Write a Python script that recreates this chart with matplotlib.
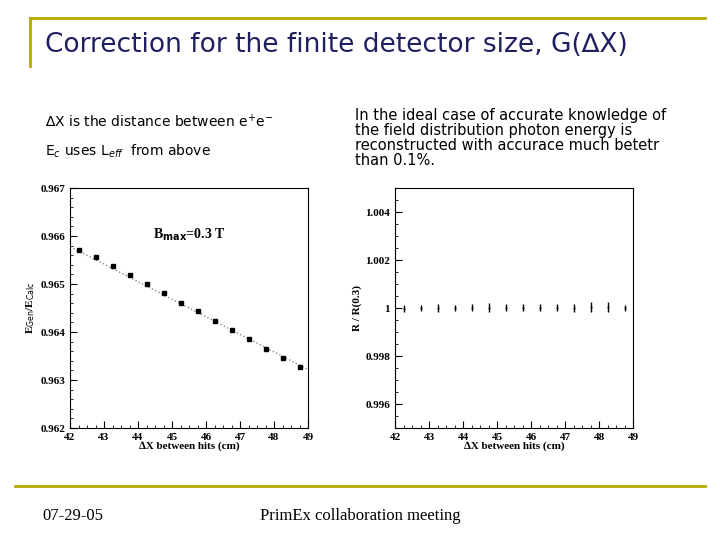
import matplotlib.pyplot as plt
from matplotlib.lines import Line2D

dx = [42.25, 42.75, 43.25, 43.75, 44.25, 44.75, 45.25, 45.75, 46.25, 46.75, 47.25, 47.75, 48.25, 48.75]
ratio = [0.96571, 0.96556, 0.96537, 0.96519, 0.96501, 0.96481, 0.96461,
         0.96443, 0.96423, 0.96404, 0.96385, 0.96365, 0.96345, 0.96327]
fit_x = [42.0, 49.0]
fit_y = [0.96578, 0.96322]
r_norm = [0.99997, 1.0, 1.0, 1.0, 1.00001, 1.00002, 1.00001, 1.00001,
          1.00001, 1.00001, 1.0, 1.00003, 1.00004, 1.0]
r_err = [0.00015, 0.00013, 0.00015, 0.00013, 0.00015, 0.00017, 0.00015, 0.00015,
         0.00015, 0.00015, 0.00015, 0.00020, 0.00021, 0.00013]

olive = '#b8a800'
serif = 'Liberation Serif'

fig = plt.figure(figsize=(7.2, 5.4), dpi=100)
fig.add_artist(Line2D([30/720, 705/720], [1-18/540, 1-18/540], color=olive, lw=2))
fig.add_artist(Line2D([30/720, 30/720], [1-18/540, 1-66/540], color=olive, lw=2))
fig.add_artist(Line2D([15/720, 705/720], [1-486/540, 1-486/540], color=olive, lw=2))

fig.text(45/720, 1-45/540, 'Correction for the finite detector size, G(\u2206X)',
         fontsize=19, va='center', color='#202060')
fig.text(45/720, 1-122/540, '\u2206X is the distance between e$^{+}$e$^{-}$', fontsize=10, va='center')
fig.text(45/720, 1-151/540, 'E$_{c}$ uses L$_{eff}$  from above', fontsize=10, va='center')
fig.text(355/720, 1-138/540,
         'In the ideal case of accurate knowledge of\nthe field distribution photon energy is\n'
         'reconstructed with accurace much betetr\nthan 0.1%.', fontsize=10.5, va='center', linespacing=1.0)
fig.text(42/720, 1-516/540, '07-29-05', fontsize=12, va='center', family=serif)
fig.text(360/720, 1-516/540, 'PrimEx collaboration meeting', fontsize=12, va='center', ha='center', family=serif)

def style(ax, ylabel):
    ax.set_xlim(42, 49)
    ax.set_xticks(range(42, 50))
    ax.set_xticks([x / 4 for x in range(168, 197)], minor=True)
    ax.tick_params(which='both', direction='in', labelsize=8)
    ax.tick_params(which='major', length=5)
    ax.tick_params(which='minor', length=2.5)
    for lab in ax.get_xticklabels() + ax.get_yticklabels():
        lab.set_family(serif)
        lab.set_fontweight('bold')
    ax.set_xlabel('\u2206X between hits (cm)', family=serif, fontweight='bold', fontsize=8, labelpad=0)
    ax.set_ylabel(ylabel, family=serif, fontweight='bold', fontsize=8, labelpad=2)

ax1 = fig.add_axes([70/720, 1-428/540, 238/720, 240/540])
ax1.plot(fit_x, fit_y, ls=':', color='#888888', lw=1)
ax1.plot(dx, ratio, 's', color='black', ms=3)
ax1.set_ylim(0.962, 0.967)
ax1.set_yticks([0.962, 0.963, 0.964, 0.965, 0.966, 0.967])
ax1.set_yticks([0.962 + i * 0.0002 for i in range(26)], minor=True)
ax1.text(45.5, 0.96595, r'B$_{\mathbf{max}}$=0.3 T', family=serif, fontweight='bold', fontsize=10, ha='center')
style(ax1, r'E$_{\mathrm{Gen}}$/E$_{\mathrm{Calc}}$')

ax2 = fig.add_axes([395/720, 1-428/540, 238/720, 240/540])
ax2.errorbar(dx, r_norm, yerr=r_err, fmt='_', color='black', ms=2, elinewidth=1, capsize=0)
ax2.set_ylim(0.995, 1.005)
ax2.set_yticks([0.996, 0.998, 1.0, 1.002, 1.004])
ax2.set_yticklabels(['0.996', '0.998', '1', '1.002', '1.004'])
ax2.set_yticks([0.995 + i * 0.0005 for i in range(21)], minor=True)
style(ax2, 'R / R(0.3)')

fig.savefig('out.png', dpi=100)
